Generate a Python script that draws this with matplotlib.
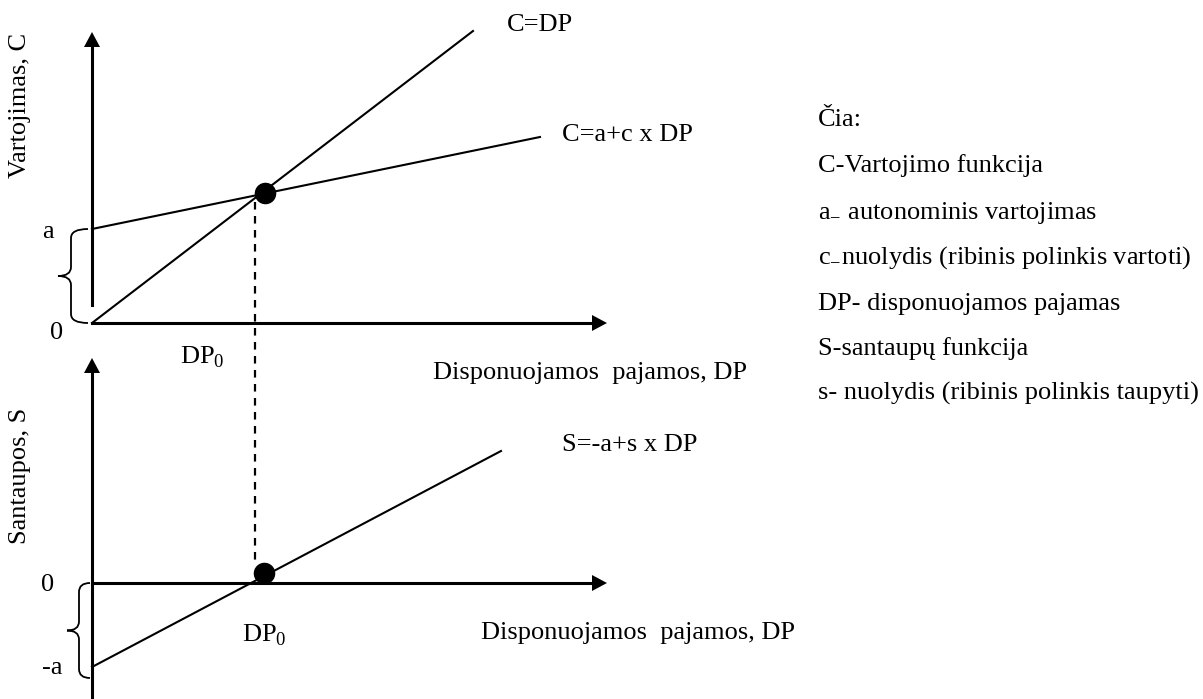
import numpy as np
import matplotlib
matplotlib.use('Agg')
import matplotlib.pyplot as plt
from matplotlib.path import Path
from matplotlib.patches import PathPatch

plt.rcParams['font.family'] = ['Liberation Serif', 'DejaVu Serif']
plt.rcParams['mathtext.fontset'] = 'custom'
plt.rcParams['mathtext.rm'] = 'Liberation Serif'

# geometry, in pixels (y grows downward)
axis_x = 92
top_zero_y = 323
bottom_zero_y = 583
axis_end_x = 607
top_arrow_y = 32
bottom_arrow_y = 358

c_eq_dp_x = [92, 473]
c_eq_dp_y = [323, 31]
c_func_x = [92, 540]
c_func_y = [229, 137]
s_func_x = [92, 501]
s_func_y = [667, 451]

dp0_x = 255
dash_y = [202, 566]
dots_x = [265, 264]
dots_y = [193, 573]

legend_lines = [
    'Čia:',
    'C-Vartojimo funkcija',
    r'a$_{\mathrm{-}}$ autonominis vartojimas',
    r'c$_{\mathrm{-}}$nuolydis (ribinis polinkis vartoti)',
    'DP- disponuojamos pajamas',
    'S-santaupų funkcija',
    's- nuolydis (ribinis polinkis taupyti)',
]
# baselines of the legend lines
legend_y = [126, 172, 219, 264, 310, 355, 400]

FS = 19


def brace(ax, x_end, x_mid, x_tip, top, bottom):
    mid = (top + bottom) / 2
    r = 9
    verts = [
        (x_end, top), (x_mid, top), (x_mid, top + r),
        (x_mid, mid - r),
        (x_mid, mid), (x_tip, mid),
        (x_mid, mid), (x_mid, mid + r),
        (x_mid, bottom - r),
        (x_mid, bottom), (x_end, bottom),
    ]
    codes = [Path.MOVETO, Path.CURVE3, Path.CURVE3,
             Path.LINETO,
             Path.CURVE3, Path.CURVE3,
             Path.CURVE3, Path.CURVE3,
             Path.LINETO,
             Path.CURVE3, Path.CURVE3]
    ax.add_patch(PathPatch(Path(verts, codes), fill=False, lw=1.3, color='black'))


def arrow_head(ax, tip_x, tip_y, direction):
    L, W = 15, 8
    if direction == 'up':
        xs = [tip_x, tip_x - W, tip_x + W]
        ys = [tip_y, tip_y + L, tip_y + L]
    else:
        xs = [tip_x, tip_x - L, tip_x - L]
        ys = [tip_y, tip_y - W, tip_y + W]
    ax.fill(xs, ys, color='black', lw=0)


fig = plt.figure(figsize=(12.03, 6.99), dpi=100)
ax = fig.add_axes([0, 0, 1, 1])
ax.set_xlim(0, 1203)
ax.set_ylim(699, 0)
ax.axis('off')

# top panel axes
ax.plot([axis_x, axis_x], [top_zero_y - 18, top_arrow_y + 12], color='black', lw=2.2)
arrow_head(ax, axis_x, top_arrow_y, 'up')
ax.plot([axis_x, axis_end_x - 12], [top_zero_y, top_zero_y], color='black', lw=2.2)
arrow_head(ax, axis_end_x, top_zero_y, 'right')

# bottom panel axes
ax.plot([axis_x, axis_x], [699, bottom_arrow_y + 12], color='black', lw=2.2)
arrow_head(ax, axis_x, bottom_arrow_y, 'up')
ax.plot([axis_x, axis_end_x - 12], [bottom_zero_y, bottom_zero_y], color='black', lw=2.2)
arrow_head(ax, axis_end_x, bottom_zero_y, 'right')

# functions
ax.plot(c_eq_dp_x, c_eq_dp_y, color='black', lw=1.5)
ax.plot(c_func_x, c_func_y, color='black', lw=1.5)
ax.plot(s_func_x, s_func_y, color='black', lw=1.5)
ax.plot([dp0_x, dp0_x], dash_y, color='black', lw=1.6, dashes=(3.4, 2.9))
ax.plot(dots_x, dots_y, 'o', color='black', markersize=14.5, zorder=5)

# braces
brace(ax, 88, 71, 58, c_func_y[0], top_zero_y)
brace(ax, 90, 79, 67, bottom_zero_y, 678)

# labels
ax.text(507, 25, 'C=DP', fontsize=FS, va='center')
ax.text(562, 135, 'C=a+c x DP', fontsize=FS, va='center')
ax.text(562, 445, 'S=-a+s x DP', fontsize=FS, va='center')
ax.text(433, 373, 'Disponuojamos  pajamos, DP', fontsize=FS, va='center')
ax.text(481, 633, 'Disponuojamos  pajamos, DP', fontsize=FS, va='center')
ax.text(180, 364, r'DP$_\mathrm{0}$', fontsize=FS, va='baseline')
ax.text(242, 642, r'DP$_\mathrm{0}$', fontsize=FS, va='baseline')
ax.text(48, 232, 'a', fontsize=FS, va='center', ha='center')
ax.text(57, 333, '0', fontsize=FS, va='center', ha='center')
ax.text(48, 585, '0', fontsize=FS, va='center', ha='center')
ax.text(52, 668, '-a', fontsize=FS, va='center', ha='center')
ax.text(20, 105, 'Vartojimas, C', fontsize=FS, va='center', ha='center', rotation=90)
ax.text(20, 476, 'Santaupos, S', fontsize=FS, va='center', ha='center', rotation=90)

for txt, y in zip(legend_lines, legend_y):
    ax.text(818, y, txt, fontsize=FS, va='baseline')

fig.savefig('out.png', dpi=100)
